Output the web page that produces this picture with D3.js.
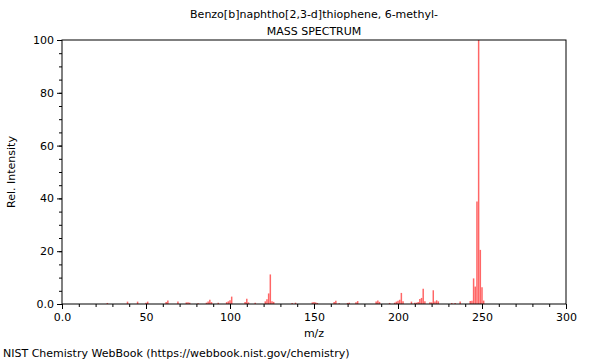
<html>
<head>
<meta charset="UTF-8" />
<style>
body { margin: 0; background: #fff; }
text { font-family: "DejaVu Sans", sans-serif; font-size: 11px; fill: #000; }
</style>
</head>
<body>
<script src="https://d3js.org/d3.v7.min.js" charset="utf-8"></script>
<script>
var width = 600;
var height = 360;

// peaks
var mz = [27, 39, 45, 50, 51, 62, 63, 69, 74, 75, 76, 81, 86, 87, 88, 89, 93, 98, 99, 100, 101,
          109, 110, 111, 115, 121, 122, 123, 124, 125, 126, 137, 139, 149, 150, 151, 152,
          162, 163, 165, 170, 171, 175, 176, 187, 188, 189, 195, 198, 199, 200, 201, 202, 203,
          208, 210, 211, 212, 213, 214, 215, 216, 219, 220, 221, 222, 223, 224, 232, 234, 237,
          243, 244, 245, 246, 247, 248, 249, 250, 251];
var intensity = [0.4, 0.9, 0.9, 0.5, 0.9, 0.8, 1.3, 0.9, 0.6, 0.7, 0.5, 0.3, 0.5, 0.9, 1.6, 0.7, 0.5, 0.7, 1.0, 1.4, 2.8,
                 0.8, 2.0, 0.6, 0.5, 1.0, 1.8, 4.0, 11.2, 1.0, 0.8, 0.4, 0.5, 0.6, 0.8, 0.6, 0.4,
                 0.8, 1.2, 0.3, 0.4, 0.5, 0.7, 1.1, 0.9, 1.3, 0.8, 0.4, 0.5, 0.9, 1.2, 1.6, 4.2, 1.0,
                 0.9, 0.5, 0.5, 0.8, 1.9, 2.3, 5.8, 1.0, 0.7, 0.6, 5.2, 0.9, 1.4, 1.0, 0.4, 0.4, 0.9,
                 1.1, 1.2, 9.7, 6.6, 38.8, 100, 20.5, 6.3, 1.3];

var xTicks = [0, 50, 100, 150, 200, 250, 300];
var yTicks = [0, 20, 40, 60, 80, 100];

var title = "Benzo[b]naphtho[2,3-d]thiophene, 6-methyl-";
var subtitle = "MASS SPECTRUM";
var footer = "NIST Chemistry WebBook (https://webbook.nist.gov/chemistry)";

var pLeft = 62, pRight = 566, pTop = 40, pBottom = 304;

var svg = d3.select("body")
			.append("svg")
			.attr("width", width)
			.attr("height", height);

var x = d3.scaleLinear().domain([0, 300]).range([pLeft, pRight]);
var y = d3.scaleLinear().domain([0, 100]).range([pBottom, pTop]);

var fmt = d => d == 0 ? "0.0" : d3.format("d")(d);

// peaks
svg.append("g")
   .selectAll("line")
   .data(mz)
   .enter()
   .append("line")
   .attr("x1", d => x(d))
   .attr("x2", d => x(d))
   .attr("y1", y(0))
   .attr("y2", (d, i) => y(intensity[i]))
   .attr("stroke", "#ff0000")
   .attr("stroke-opacity", 0.6)
   .attr("stroke-width", 1.5);

// minor ticks
svg.append("g")
   .attr("transform", "translate(0," + pBottom + ")")
   .call(d3.axisBottom(x).tickValues(d3.range(0, 301, 10)).tickSize(3).tickFormat(""))
   .call(g => g.select(".domain").remove());
svg.append("g")
   .attr("transform", "translate(" + pLeft + ",0)")
   .call(d3.axisLeft(y).tickValues(d3.range(0, 101, 5)).tickSize(3).tickFormat(""))
   .call(g => g.select(".domain").remove());

// major ticks
var xAxis = svg.append("g")
   .attr("transform", "translate(0," + pBottom + ")")
   .call(d3.axisBottom(x).tickValues(xTicks).tickSize(5).tickPadding(4).tickFormat(fmt));
xAxis.select(".domain").remove();
xAxis.attr("font-family", null).attr("font-size", null);

var yAxis = svg.append("g")
   .attr("transform", "translate(" + pLeft + ",0)")
   .call(d3.axisLeft(y).tickValues(yTicks).tickSize(5).tickPadding(3).tickFormat(fmt));
yAxis.select(".domain").remove();
yAxis.attr("font-family", null).attr("font-size", null);

// frame
svg.append("rect")
   .attr("x", pLeft)
   .attr("y", pTop)
   .attr("width", pRight - pLeft)
   .attr("height", pBottom - pTop)
   .attr("fill", "none")
   .attr("stroke", "#000")
   .attr("stroke-width", 1);

// texts
svg.append("text").attr("x", (pLeft + pRight) / 2).attr("y", 18).attr("text-anchor", "middle").text(title);
svg.append("text").attr("x", (pLeft + pRight) / 2).attr("y", 35).attr("text-anchor", "middle").text(subtitle);
svg.append("text").attr("x", (pLeft + pRight) / 2).attr("y", 337).attr("text-anchor", "middle").text("m/z");
svg.append("text")
   .attr("transform", "translate(15," + ((pTop + pBottom) / 2) + ") rotate(-90)")
   .attr("text-anchor", "middle")
   .text("Rel. Intensity");
svg.append("text").attr("x", 3).attr("y", 357).text(footer);
</script>
</body>
</html>
